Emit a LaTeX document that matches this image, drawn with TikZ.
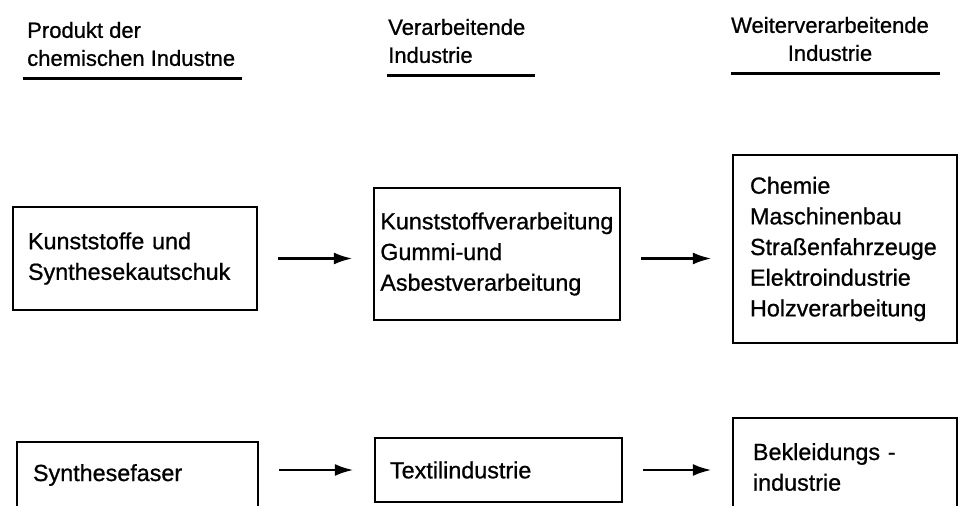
\documentclass[tikz,border=0pt]{standalone}
\usepackage{fontspec}
\setmainfont{Liberation Sans}[FakeBold=0.8]
\usetikzlibrary{arrows.meta}
\tikzset{
  box/.style={draw, line width=2.2pt, align=left, inner ysep=0pt,
    font=\fontsize{17.5}{23}\selectfont},
  kopf/.style={inner xsep=0pt, inner ysep=0pt, font=\fontsize{16.5}{21}\selectfont},
  pfeil/.style={line width=2pt, -{Latex[length=14pt,width=9pt]},
    shorten <=15pt, shorten >=15pt},
  strich/.style={line width=2.2pt}
}
\begin{document}
\begin{tikzpicture}[x=0.75pt, y=-0.75pt]
  \useasboundingbox (0,0) rectangle (960,506);

  % Spaltenköpfe
  \node[kopf, align=left, anchor=west] (k1) at (27,44) {Produkt der\\chemischen Industne};
  \node[kopf, align=left, anchor=west] (k2) at (388,41) {Verarbeitende\\Industrie};
  \node[kopf, align=center] (k3) at (830,39) {Weiterverarbeitende\\Industrie};
  \draw[strich] ([xshift=-3pt, yshift=-9pt]k1.south west) -- ([xshift=5pt, yshift=-9pt]k1.south east);
  \draw[strich] ([xshift=-1pt, yshift=-9pt]k2.south west) -- ([xshift=7pt, yshift=-9pt]k2.south east);
  \draw[strich] ([yshift=-9pt]k3.south west) -- ([xshift=8pt, yshift=-9pt]k3.south east);

  % obere Reihe
  \node[box, text width=160.5pt, inner xsep=11.25pt, minimum height=77.25pt] (a) at (135,258.5)
    {Kunststoffe und\\Synthesekautschuk};
  \node[box, text width=175pt, inner xsep=4.75pt, minimum height=99pt] (b) at (497,254)
    {Kunststoffverarbeitung\\Gummi-und\\Asbestverarbeitung};
  \node[box, text width=142.5pt, inner xsep=12.75pt, minimum height=141pt] (c) at (845,249)
    {Chemie\\Maschinenbau\\Straßenfahrzeuge\\Elektroindustrie\\Holzverarbeitung};

  % untere Reihe
  \node[box, text width=156.75pt, inner xsep=12pt, minimum height=49.5pt] (d) at (137.5,475)
    {Synthesefaser};
  \node[box, text width=162.75pt, inner xsep=11.25pt, minimum height=48pt] (e) at (498.5,470)
    {Textilindustrie};
  \node[box, text width=138pt, inner xsep=15pt, minimum height=73.5pt] (f) at (845,467)
    {Bekleidungs -\\industrie};

  % Pfeile
  \draw[pfeil] (a.east) -- (a.east -| b.west);
  \draw[pfeil] (a.east -| b.east) -- (a.east -| c.west);
  \draw[pfeil] (e.west -| d.east) -- (e.west);
  \draw[pfeil] (e.east) -- (e.east -| f.west);
\end{tikzpicture}
\end{document}
